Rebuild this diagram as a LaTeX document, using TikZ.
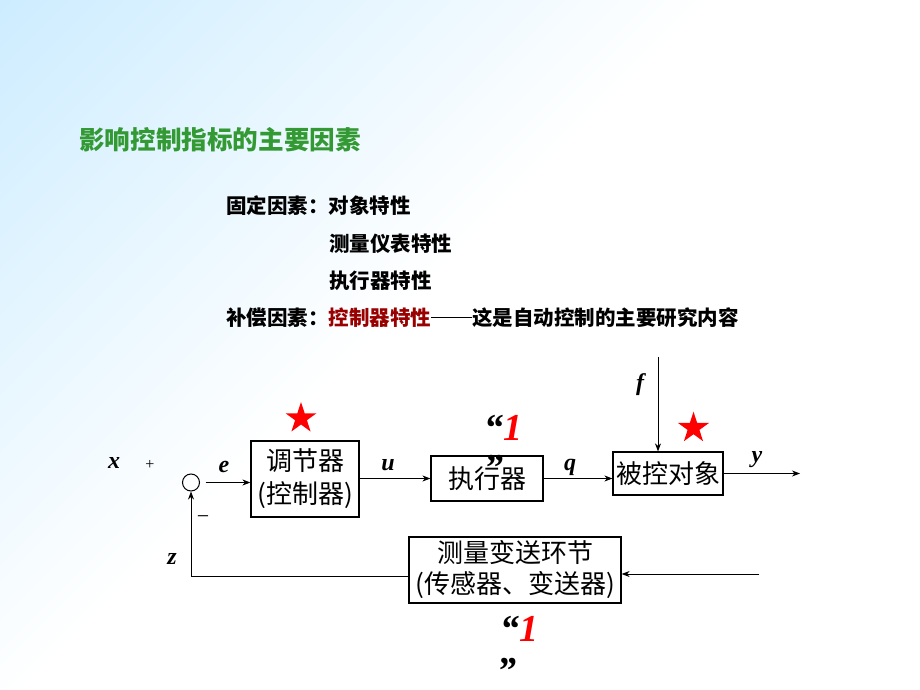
\documentclass[tikz,border=0pt]{standalone}
\usepackage{fontspec}
\setmainfont{Liberation Serif}
\newfontfamily\cjk{Noto Sans CJK SC}
\newfontfamily\ser{Liberation Serif}
\usetikzlibrary{arrows.meta,shapes.geometric,calc}
\definecolor{bgblue}{RGB}{204,236,255}
\definecolor{titlegreen}{RGB}{51,153,51}
\definecolor{darkred}{RGB}{153,0,0}
\pgfdeclarehorizontalshading{bgshade}{100bp}{color(0bp)=(bgblue); color(14bp)=(bgblue); color(46bp)=(white); color(100bp)=(white)}
\tikzset{
  arr/.style={-{Stealth[length=8pt,width=6pt,inset=2.5pt]}, line width=0.9pt},
  blk/.style={draw, line width=1.2pt, inner sep=0pt, align=center, font=\cjk\fontsize{26}{33}\selectfont},
  lab/.style={inner sep=0pt, font=\ser\bfseries\itshape\fontsize{24}{24}\selectfont},
  txt/.style={anchor=base west, inner sep=0pt, font=\cjk\bfseries\fontsize{20.5}{24}\selectfont},
  redstar/.style={star, star points=5, star point ratio=2.618, fill=red, inner sep=0pt, minimum size=32.6pt},
  quo/.style={anchor=base west, inner sep=0pt, font=\ser\bfseries\itshape\fontsize{38}{38}\selectfont}
}
\begin{document}
\begin{tikzpicture}[x=1pt,y=-1pt]
\useasboundingbox (0,0) rectangle (920,690);
\shade[shading=bgshade, shading angle=-45] (0,0) rectangle (920,690);

% title and text
\node[txt, text=titlegreen, font=\cjk\bfseries\fontsize{25.6}{30}\selectfont] (title) at (79,149.7) {影响控制指标的主要因素};
\node[txt] (l1) at (226,213.8) {固定因素：对象特性};
\node[txt] (l2) at (329,251.8) {测量仪表特性};
\node[txt] (l3) at (329,288.8) {执行器特性};
\node[txt] (l4) at (226,325.3) {补偿因素：\textcolor{darkred}{控制器特性}\makebox[2em]{\rule[0.36em]{2em}{1.3pt}}这是自动控制的主要研究内容};

% blocks
\node[circle, draw, line width=1pt, minimum size=17pt, inner sep=0pt] (sum) at (191,482.5) {};
\node[blk, minimum width=108pt, minimum height=76pt] (ctrl) at (305,479) {调节器\\(控制器)};
\node[blk, minimum width=112pt, minimum height=45pt] (act) at (487,478.5) {执行器};
\node[blk, minimum width=110pt, minimum height=43pt] (plant) at (668,473.5) {被控对象};
\node[blk, minimum width=212pt, minimum height=66pt, font=\cjk\fontsize{26}{31}\selectfont] (meas) at (515,570) {测量变送环节\\(传感器、变送器)};

\coordinate (ftop) at (658,357);
\coordinate (yend) at (800,473.5);
\coordinate (fbin) at (759,574);

% connectors
\draw[arr] ([xshift=5.5pt]sum.east) -- (sum.east -| ctrl.west);
\draw[arr] (ctrl.east |- act.west) -- (act.west);
\draw[arr] (act.east) -- (act.east -| plant.west);
\draw[arr] (plant.east) -- (yend);
\draw[arr] (ftop) -- (ftop |- plant.north);
\draw[arr] (fbin) -- (fbin -| meas.east);
\draw[arr] ($(meas.west)+(0,6)$) -| (sum.south);

% labels
\node[lab] (lx) at (114,463) {x};
\node[inner sep=0pt, font=\ser\fontsize{16}{16}\selectfont] (lplus) at (150,465) {+};
\node[lab] (le) at (224,467) {e};
\node[inner sep=0pt, font=\ser\fontsize{22}{22}\selectfont] (lminus) at (203,520) {−};
\node[lab] (lz) at (172,559) {z};
\node[lab] (lu) at (388,465) {u};
\node[lab] (lq) at (570,467) {q};
\node[lab] (lf) at (640,385) {f};
\node[lab] (ly) at (757,460) {y};

% stars
\node[redstar] (st1) at (301,418.3) {};
\node[redstar] (st2) at (693.5,428) {};

% "1" marks
\node[quo] (qa1) at (484,440) {“\textcolor{red}{1}};
\node[quo] (qa2) at (484,480) {”};
\node[quo] (qb1) at (500,641) {“\textcolor{red}{1}};
\node[quo] (qb2) at (497,683) {”};
\end{tikzpicture}
\end{document}
